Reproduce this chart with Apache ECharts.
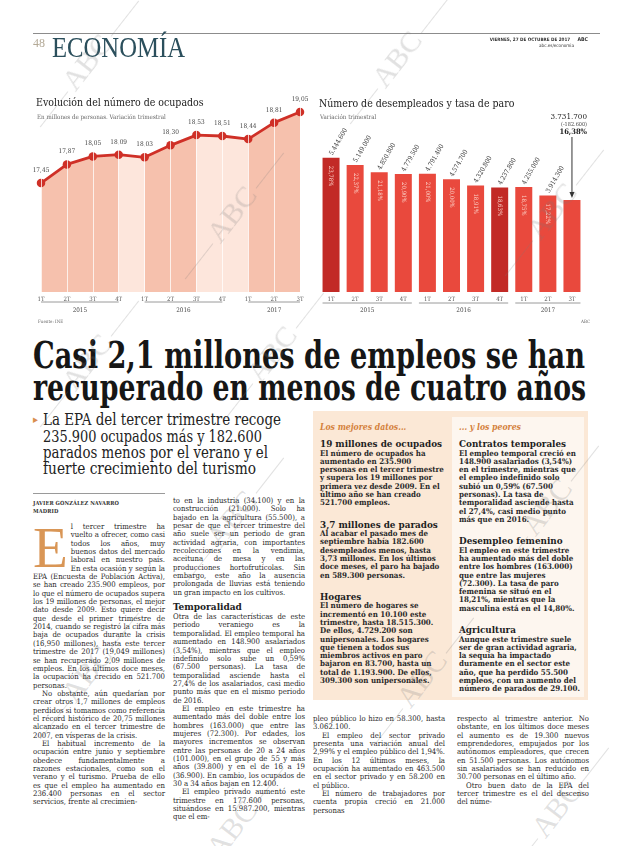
<!DOCTYPE html>
<html lang="es"><head><meta charset="utf-8">
<script src="https://cdn.jsdelivr.net/npm/echarts/dist/echarts.min.js"></script>
<style>
html,body{margin:0;padding:0}
body{width:620px;height:846px;background:#fff;position:relative;overflow:hidden;font-family:"DejaVu Serif Condensed","DejaVu Serif",serif;color:#222}
.abs{position:absolute}
.fit{position:absolute;white-space:nowrap;transform-origin:0 0}
.col{position:absolute;width:132px;font-size:7.7px;line-height:8.35px;text-align:justify;color:#2a2a2a;hyphens:auto;-webkit-hyphens:auto}
.col p{margin:0;text-indent:9px}
.col p.first{text-indent:0}
.col h4{margin:4px 0 1px;font-size:10px;line-height:11px;font-weight:bold;color:#222}
.drop{float:left;font-size:57px;line-height:47px;height:48px;color:#d99656;margin:1px 3px 0 0;font-family:"Liberation Serif",serif}
.boxcol{position:absolute;font-size:7.9px;line-height:8.3px;color:#2a2a2a;hyphens:auto;-webkit-hyphens:auto}
.boxtag{font-style:italic;font-weight:bold;color:#d4813c;font-size:8.6px;line-height:10px;margin-bottom:7px}
.bh{font-weight:bold;font-size:9.8px;line-height:10.5px;color:#1e1e1e}
.bt{font-weight:bold;margin-bottom:12px}
.wm{position:absolute;color:rgba(120,120,120,0.22);font-family:"Liberation Serif",serif;font-size:30px;line-height:30px;transform-origin:0 50%;white-space:nowrap;pointer-events:none}
.wm::before,.wm::after{content:"";display:inline-block;width:45px;border-top:1px solid rgba(120,120,120,0.22);vertical-align:middle;margin:0 4px}
</style></head>
<body>
<div id="chart" class="abs" style="left:0;top:0;width:620px;height:330px"></div>

<div class="abs" style="left:33px;top:33px;width:567px;border-top:1.5px solid #8c8c8c"></div>
<div class="abs" style="left:33px;top:36px;font-size:12px;color:#b3a996;font-family:'Liberation Serif',serif">48</div>
<div class="fit" data-w="133" style="left:52px;top:33px;font-size:29px;color:#2b4f5c;font-family:'Liberation Serif',serif;line-height:29px">ECONOMÍA</div>
<div class="abs" style="right:32px;top:37px;font-size:4.6px;font-weight:bold;color:#333;text-align:right;line-height:5.5px;font-family:'DejaVu Sans Condensed','DejaVu Sans',sans-serif">VIERNES, 27 DE OCTUBRE DE 2017 &nbsp;&nbsp;&nbsp; <span style="font-size:5.2px">ABC</span><br><span style="font-weight:normal;margin-right:14px">abc.es/economia</span></div>

<div class="fit" data-w="552" style="left:33px;top:335px;font-size:38px;line-height:40px;font-weight:bold;color:#161616">Casi 2,1 millones de empleos se han</div>
<div class="fit" data-w="553" style="left:33px;top:367px;font-size:38px;line-height:40px;font-weight:bold;color:#161616">recuperado en menos de cuatro años</div>

<div class="abs" style="left:33px;top:412px;font-size:11px;color:#d98e4e;line-height:16px">&#9656;</div>
<div class="fit" data-w="238" style="left:43px;top:411px;font-size:16px;line-height:17px;color:#222">La EPA del tercer trimestre recoge</div>
<div class="fit" data-w="219" style="left:43px;top:428px;font-size:16px;line-height:17px;color:#222">235.900 ocupados más y 182.600</div>
<div class="fit" data-w="225" style="left:43px;top:444px;font-size:16px;line-height:17px;color:#222">parados menos por el verano y el</div>
<div class="fit" data-w="213" style="left:43px;top:460px;font-size:16px;line-height:17px;color:#222">fuerte crecimiento del turismo</div>

<div class="abs" style="left:33px;top:493px;width:132px;border-top:1px solid #9a9a9a"></div>
<div class="abs" style="left:33px;top:499px;font-size:5.6px;line-height:8px;font-weight:bold;color:#333;letter-spacing:0.1px">JAVIER GONZÁLEZ NAVARRO<br>MADRID</div>

<div class="col" style="left:33px;top:523px">
<p class="first"><span class="drop">E</span>l tercer trimestre ha vuelto a ofrecer, como casi todos los años, muy buenos datos del mercado laboral en nuestro país. En esta ocasión y según la EPA (Encuesta de Población Activa), se han creado 235.900 empleos, por lo que el número de ocupados supera los 19 millones de personas, el mejor dato desde 2009. Esto quiere decir que desde el primer trimestre de 2014, cuando se registró la cifra más baja de ocupados durante la crisis (16,950 millones), hasta este tercer trimestre de 2017 (19,049 millones) se han recuperado 2,09 millones de empleos. En los últimos doce meses, la ocupación ha crecido en 521.700 personas.</p>
<p>No obstante, aún quedarían por crear otros 1,7 millones de empleos perdidos si tomamos como referencia el récord histórico de 20,75 millones alcanzado en el tercer trimestre de 2007, en vísperas de la crisis.</p>
<p>El habitual incremento de la ocupación entre junio y septiembre obedece fundamentalmente a razones estacionales, como son el verano y el turismo. Prueba de ello es que el empleo ha aumentado en 236.400 personas en el sector servicios, frente al crecimien-</p>
</div>

<div class="col" style="left:173px;top:497px">
<p class="first">to en la industria (34.100) y en la construcción (21.000). Solo ha bajado en la agricultura (55.500), a pesar de que el tercer trimestre del año suele ser un periodo de gran actividad agraria, con importantes recolecciones en la vendimia, aceituna de mesa y en las producciones hortofrutícolas. Sin embargo, este año la ausencia prolongada de lluvias está teniendo un gran impacto en los cultivos.</p>
<h4>Temporalidad</h4>
<p class="first">Otra de las características de este periodo veraniego es la temporalidad. El empleo temporal ha aumentado en 148.900 asalariados (3,54%), mientras que el empleo indefinido solo sube un 0,59% (67.500 personas). La tasa de temporalidad asciende hasta el 27,4% de los asalariados, casi medio punto más que en el mismo periodo de 2016.</p>
<p>El empleo en este trimestre ha aumentado más del doble entre los hombres (163.000) que entre las mujeres (72.300). Por edades, los mayores incrementos se observan entre las personas de 20 a 24 años (101.000), en el grupo de 55 y más años (39.800) y en el de 16 a 19 (36.900). En cambio, los ocupados de 30 a 34 años bajan en 12.400.</p>
<p>El empleo privado aumentó este trimestre en 177.600 personas, situándose en 15.987.200, mientras que el em-</p>
</div>

<div class="abs" style="left:313px;top:411px;width:275px;height:289px;background:#fbe8d6"></div>
<div class="abs" style="left:452px;top:417px;width:132px;height:280px;background:#fdf6ef"></div>
<div class="boxcol" style="left:320px;top:422px;width:124px">
<div class="boxtag">Los mejores datos...</div>
<div class="bh">19 millones de ocupados</div>
<div class="bt">El número de ocupados ha aumentado en 235.900 personas en el tercer trimestre y supera los 19 millones por primera vez desde 2009. En el último año se han creado 521.700 empleos.</div>
<div class="bh">3,7 millones de parados</div>
<div class="bt">Al acabar el pasado mes de septiembre había 182.600 desempleados menos, hasta 3,73 millones. En los últimos doce meses, el paro ha bajado en 589.300 personas.</div>
<div class="bh">Hogares</div>
<div class="bt">El número de hogares se incrementó en 10.100 este trimestre, hasta 18.515.300. De ellos, 4.729.200 son unipersonales. Los hogares que tienen a todos sus miembros activos en paro bajaron en 83.700, hasta un total de 1.193.900. De ellos, 309.300 son unipersonales.</div>
</div>
<div class="boxcol" style="left:459px;top:422px;width:122px">
<div class="boxtag">... y los peores</div>
<div class="bh">Contratos temporales</div>
<div class="bt">El empleo temporal creció en 148.900 asalariados (3,54%) en el trimestre, mientras que el empleo indefinido solo subió un 0,59% (67.500 personas). La tasa de temporalidad asciende hasta el 27,4%, casi medio punto más que en 2016.</div>
<div class="bh">Desempleo femenino</div>
<div class="bt">El empleo en este trimestre ha aumentado más del doble entre los hombres (163.000) que entre las mujeres (72.300). La tasa de paro femenina se situó en el 18,21%, mientras que la masculina está en el 14,80%.</div>
<div class="bh">Agricultura</div>
<div class="bt">Aunque este trimestre suele ser de gran actividad agraria, la sequía ha impactado duramente en el sector este año, que ha perdido 55.500 empleos, con un aumento del número de parados de 29.100.</div>
</div>

<div class="col" style="left:313px;top:715px">
<p class="first">pleo público lo hizo en 58.300, hasta 3.062.100.</p>
<p>El empleo del sector privado presenta una variación anual del 2,99% y el empleo público del 1,94%. En los 12 últimos meses, la ocupación ha aumentado en 463.500 en el sector privado y en 58.200 en el público.</p>
<p>El número de trabajadores por cuenta propia creció en 21.000 personas</p>
</div>
<div class="col" style="left:457px;top:715px">
<p class="first">respecto al trimestre anterior. No obstante, en los últimos doce meses el aumento es de 19.300 nuevos emprendedores, empujados por los autónomos empleadores, que crecen en 51.500 personas. Los autónomos sin asalariados se han reducido en 30.700 personas en el último año.</p>
<p>Otro buen dato de la EPA del tercer trimestre es el del descenso del núme-</p>
</div>

<div class="wm" style="left:35px;top:113px;transform:rotate(-52deg)">ABC</div>
<div class="wm" style="left:345px;top:110px;transform:rotate(-52deg)">ABC</div>
<div class="wm" style="left:180px;top:265px;transform:rotate(-52deg)">ABC</div>
<div class="wm" style="left:500px;top:262px;transform:rotate(-52deg)">ABC</div>
<div class="wm" style="left:35px;top:413px;transform:rotate(-52deg)">ABC</div>
<div class="wm" style="left:220px;top:405px;transform:rotate(-52deg)">ABC</div>
<div class="wm" style="left:180px;top:570px;transform:rotate(-52deg)">ABC</div>
<div class="wm" style="left:495px;top:558px;transform:rotate(-52deg)">ABC</div>
<div class="wm" style="left:35px;top:725px;transform:rotate(-52deg)">ABC</div>
<div class="wm" style="left:370px;top:730px;transform:rotate(-52deg)">ABC</div>
<div class="wm" style="left:180px;top:880px;transform:rotate(-52deg)">ABC</div>
<div class="wm" style="left:505px;top:860px;transform:rotate(-52deg)">ABC</div>

<script>
// ---------- DATA ----------
const quarters = ['1T','2T','3T','4T','1T','2T','3T','4T','1T','2T','3T'];
const years = ['2015','2016','2017'];
const yearSpans = [[0,3],[4,7],[8,10]];
const ocupados = [17.45,17.87,18.05,18.09,18.03,18.30,18.53,18.51,18.44,18.81,19.05];
const parados = [5444600,5149000,4850800,4779500,4791400,4574700,4320800,4237800,4255000,3914300,3731700];
const tasaParo = [23.78,22.37,21.18,20.90,21.00,20.00,18.91,18.63,18.75,17.22,16.38];
const darkBars = [0,7];
const darkSegments = [[0,3],[4,6],[8,10]];
const lightSegments = [[3,4],[6,8]];

(function(){
document.querySelectorAll('.fit').forEach(el=>{
  const w = el.getBoundingClientRect().width;
  el.style.transform = 'scaleX(' + (+el.dataset.w / w) + ')';
});

const FF = '"DejaVu Serif Condensed","DejaVu Serif",serif';
const fmt = n => (n<0?'-':'') + String(Math.abs(n)).replace(/\B(?=(\d{3})+(?!\d))/g,'.');
const dec = v => v.toFixed(2).replace('.',',');
const seg = (a,b) => ocupados.map((v,i)=> (i>=a && i<=b) ? v : '-');

const chart = echarts.init(document.getElementById('chart'));
const series = [];
darkSegments.forEach(([a,b])=>series.push({type:'line',xAxisIndex:0,yAxisIndex:0,data:seg(a,b),symbol:'none',lineStyle:{width:0},areaStyle:{color:'#f6c1ad',opacity:1},silent:true,z:1}));
lightSegments.forEach(([a,b])=>series.push({type:'line',xAxisIndex:0,yAxisIndex:0,data:seg(a,b),symbol:'none',lineStyle:{width:0},areaStyle:{color:'#fde6dc',opacity:1},silent:true,z:1}));
series.push({type:'line',xAxisIndex:0,yAxisIndex:0,data:ocupados,symbol:'none',lineStyle:{width:0},silent:true,z:2,
  markLine:{silent:true,symbol:'none',animation:false,label:{show:false},lineStyle:{color:'#ffffff',width:1,type:'solid',opacity:0.75},data:quarters.map((q,i)=>({xAxis:i}))}});
series.push({type:'line',xAxisIndex:0,yAxisIndex:0,data:ocupados,z:3,symbol:'circle',symbolSize:8.5,
  lineStyle:{color:'#cf3027',width:2.8},itemStyle:{color:'#cf3027'},
  label:{show:true,position:'top',distance:5,fontSize:6.5,color:'#444',fontFamily:FF,formatter:p=>dec(p.value)}});
series.push({type:'bar',xAxisIndex:1,yAxisIndex:1,barWidth:17,
  data:parados.map((v,i)=>({value:v,itemStyle:{color:darkBars.includes(i)?'#c22a26':'#e9493d'}})),
  label:{show:true,position:'insideTop',rotate:-90,align:'left',verticalAlign:'middle',distance:8,fontSize:6,color:'#fbd0c6',fontFamily:FF,
    formatter:p=> p.dataIndex < tasaParo.length-1 ? dec(tasaParo[p.dataIndex])+'%' : ''}});
series.push({type:'bar',xAxisIndex:1,yAxisIndex:1,barWidth:17,barGap:'-100%',data:parados,silent:true,
  itemStyle:{color:'rgba(0,0,0,0)'},
  label:{show:true,position:'top',rotate:60,align:'left',verticalAlign:'middle',distance:3,fontSize:6.5,color:'#333',fontFamily:FF,
    formatter:p=> p.dataIndex < parados.length-1 ? fmt(p.value) : ''}});

const axisLbl = {fontSize:6,color:'#555',fontFamily:FF,margin:4};
chart.setOption({
  animation:false,
  textStyle:{fontFamily:FF},
  title:[
    {text:'Evolución del número de ocupados',left:31,top:93,textStyle:{fontSize:10.5,fontWeight:'normal',color:'#222',fontFamily:FF}},
    {text:'En millones de personas. Variación trimestral',left:32,top:109,textStyle:{fontSize:6.2,fontWeight:'normal',color:'#666',fontFamily:FF}},
    {text:'Número de desempleados y tasa de paro',left:314,top:94,textStyle:{fontSize:10.5,fontWeight:'normal',color:'#222',fontFamily:FF}},
    {text:'Variación trimestral',left:315,top:109,textStyle:{fontSize:6.2,fontWeight:'normal',color:'#666',fontFamily:FF}},
    {text:'Fuente: INE',left:33,top:314,textStyle:{fontSize:4.5,fontWeight:'normal',color:'#666',fontFamily:FF}},
    {text:'ABC',left:576,top:314,textStyle:{fontSize:4.5,fontWeight:'normal',color:'#666',fontFamily:FF}}
  ],
  grid:[{left:41,width:259,top:92,height:200},{left:319,width:265,top:144,height:148}],
  xAxis:[
    {type:'category',gridIndex:0,data:quarters,boundaryGap:false,axisLine:{show:false},axisTick:{show:false},axisLabel:axisLbl,splitLine:{show:false}},
    {type:'category',gridIndex:1,data:quarters,axisLine:{show:false},axisTick:{show:false},axisLabel:axisLbl,splitLine:{show:false}}
  ],
  yAxis:[
    {type:'value',gridIndex:0,min:15,max:19.5,show:false,splitLine:{show:false}},
    {type:'value',gridIndex:1,min:0,max:6000000,show:false,splitLine:{show:false}}
  ],
  series
});

const g = [];
const half = 8.5;
yearSpans.forEach(([a,b],k)=>{
  const p0 = chart.convertToPixel({gridIndex:0},[a,15]);
  const p1 = chart.convertToPixel({gridIndex:0},[b,15]);
  g.push({type:'line',shape:{x1:p0[0],y1:302,x2:p1[0],y2:302},style:{stroke:'#9a9a9a',lineWidth:1},silent:true});
  g.push({type:'text',style:{text:years[k],x:(p0[0]+p1[0])/2,y:310,font:'6.3px '+FF,fill:'#444',textAlign:'center',textVerticalAlign:'middle',align:'center',verticalAlign:'middle'},silent:true});
  const q0 = chart.convertToPixel({gridIndex:1},[a,0]);
  const q1 = chart.convertToPixel({gridIndex:1},[b,0]);
  g.push({type:'line',shape:{x1:q0[0]-half,y1:303,x2:q1[0]+half,y2:303},style:{stroke:'#9a9a9a',lineWidth:1},silent:true});
  g.push({type:'text',style:{text:years[k],x:(q0[0]+q1[0])/2,y:310,font:'6.3px '+FF,fill:'#444',textAlign:'center',textVerticalAlign:'middle',align:'center',verticalAlign:'middle'},silent:true});
});
const last = parados.length-1;
const tp = chart.convertToPixel({gridIndex:1},[last,parados[last]]);
g.push({type:'line',shape:{x1:tp[0],y1:137,x2:tp[0],y2:tp[1]-6},style:{stroke:'#333',lineWidth:1},silent:true});
g.push({type:'polygon',shape:{points:[[tp[0]-2.5,tp[1]-8],[tp[0]+2.5,tp[1]-8],[tp[0],tp[1]-2]]},style:{fill:'#333'},silent:true});
const tx = 587;
g.push({type:'text',style:{text:fmt(parados[last]),x:tx,y:117,font:'8px '+FF,fill:'#222',textAlign:'right',textVerticalAlign:'middle',align:'right',verticalAlign:'middle'},silent:true});
g.push({type:'text',style:{text:'('+fmt(parados[last]-parados[last-1])+')',x:tx,y:124.5,font:'5.5px '+FF,fill:'#444',textAlign:'right',textVerticalAlign:'middle',align:'right',verticalAlign:'middle'},silent:true});
g.push({type:'text',style:{text:dec(tasaParo[last])+'%',x:tx,y:132,font:'bold 7.5px '+FF,fill:'#222',textAlign:'right',textVerticalAlign:'middle',align:'right',verticalAlign:'middle'},silent:true});
chart.setOption({graphic:g});
})();
</script>
</body></html>
